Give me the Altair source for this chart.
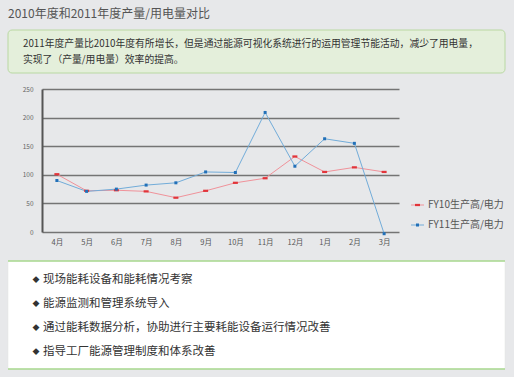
import altair as alt
import pandas as pd

FONT = "Noto Sans CJK SC"

# ---- data ----
months = ["4月", "5月", "6月", "7月", "8月", "9月", "10月", "11月", "12月", "1月", "2月", "3月"]
fy10 = [101, 72, 73, 71, 60, 72, 86, 94, 132, 105, 113, 105]
fy11 = [90, 71, 75, 82, 86, 105, 104, 209, 115, 163, 155, -3]
series_names = ["FY10生产高/电力", "FY11生产高/电力"]
y_ticks = [0, 50, 100, 150, 200, 250]

title_text = ["2010年度和2011年度产量/用电量对比"]
note_lines = [
    "2011年度产量比2010年度有所增长，但是通过能源可视化系统进行的运用管理节能活动，减少了用电量，",
    "实现了（产量/用电量）效率的提高。",
]
bullet_lines = [
    "现场能耗设备和能耗情况考察",
    "能源监测和管理系统导入",
    "通过能耗数据分析，协助进行主要耗能设备运行情况改善",
    "指导工厂能源管理制度和体系改善",
]

rows = []
for name, vals in zip(series_names, [fy10, fy11]):
    for m, v in zip(months, vals):
        rows.append({"month": m, "value": v, "series": name})
df = pd.DataFrame(rows)

# plot-area origin in page pixels
OX, OY = 42, 89
W, H = 357, 143

x_enc = alt.X("month:N", sort=months,
              scale=alt.Scale(type="point", padding=0.5),
              axis=alt.Axis(title=None, labelAngle=0, ticks=False, domain=False,
                            labelFontSize=7.5, labelColor="#555", labelPadding=6,
                            labelFont=FONT))
y_enc = alt.Y("value:Q", scale=alt.Scale(domain=[0, 250], nice=False),
              axis=alt.Axis(title=None, values=y_ticks, ticks=False, tickSize=0,
                            labelOverlap=False,
                            domain=True, domainColor="#555", domainWidth=2,
                            grid=True, gridColor="#747474", gridWidth=1.7,
                            labelFontSize=6.5, labelColor="#666", labelPadding=9,
                            labelFont=FONT))

line_colors = ["#f0929a", "#72acd9"]
mark_colors = ["#e2343a", "#2270b8"]
marker_paths = ["M-1,-0.45H1V0.45H-1Z", "M-0.6,-0.6H0.6V0.6H-0.6Z"]

lines = alt.Chart(df).mark_line(strokeWidth=1).encode(
    x=x_enc, y=y_enc,
    color=alt.Color("series:N", scale=alt.Scale(domain=series_names, range=line_colors), legend=None),
)

points = alt.Chart(df).mark_point(filled=True, size=25, opacity=1, strokeWidth=0).encode(
    x=x_enc, y=y_enc,
    fill=alt.Fill("series:N", scale=alt.Scale(domain=series_names, range=mark_colors),
                  legend=None),
    shape=alt.Shape("series:N", scale=alt.Scale(domain=series_names, range=marker_paths),
                    legend=None),
)

# ---- decorations (page pixels converted to plot coordinates) ----
def px(x):
    return x - OX

def py(y):
    return y - OY

dummy = pd.DataFrame({"k": [0]})

top_box = alt.Chart(dummy).mark_rect(fill="#e4efdb", stroke="#b9d8a2", strokeWidth=1,
                                     cornerRadius=4).encode(
    x=alt.value(px(8)), x2=alt.value(px(505)), y=alt.value(py(30)), y2=alt.value(py(73)))

bottom_box = alt.Chart(dummy).mark_rect(fill="#ffffff", stroke="#e0e4e0", strokeWidth=0.5).encode(
    x=alt.value(px(8)), x2=alt.value(px(505)), y=alt.value(py(261)), y2=alt.value(py(369)))
bottom_line_top = alt.Chart(dummy).mark_rule(color="#a9d88f", strokeWidth=1.5).encode(
    x=alt.value(px(8)), x2=alt.value(px(505)), y=alt.value(py(261)))
bottom_line_bot = alt.Chart(dummy).mark_rule(color="#a9d88f", strokeWidth=1.5).encode(
    x=alt.value(px(8)), x2=alt.value(px(505)), y=alt.value(py(369)))

title = alt.Chart(pd.DataFrame({"t": title_text})).mark_text(
    align="left", baseline="middle", fontSize=12, color="#555", font=FONT).encode(
    text="t:N", x=alt.value(px(8)), y=alt.value(py(14)))

note_df = pd.DataFrame({"t": note_lines, "i": list(range(len(note_lines)))})
note_layers = []
for i, t in enumerate(note_lines):
    note_layers.append(
        alt.Chart(note_df).transform_filter(alt.datum.i == i).mark_text(
            align="left", baseline="middle", fontSize=9.8, color="#333", font=FONT).encode(
            text="t:N", x=alt.value(px(23)), y=alt.value(py(44 + 16 * i))))

bullet_df = pd.DataFrame({"t": bullet_lines, "i": list(range(len(bullet_lines)))})
bullet_layers = []
for i, t in enumerate(bullet_lines):
    yy = py(280 + 24 * i)
    bullet_layers.append(
        alt.Chart(bullet_df).transform_filter(alt.datum.i == i).mark_text(
            align="left", baseline="middle", fontSize=11.5, color="#333", font=FONT).encode(
            text="t:N", x=alt.value(px(43)), y=alt.value(yy)))
    bullet_layers.append(
        alt.Chart(bullet_df).transform_filter(alt.datum.i == i).mark_text(
            text="◆", align="center", baseline="middle", fontSize=7, color="#333", font=FONT).encode(
            x=alt.value(px(36)), y=alt.value(yy)))

# ---- legend (drawn as marks) ----
legend_df = pd.DataFrame({"t": series_names, "i": [0, 1]})
legend_layers = []
for i, name in enumerate(series_names):
    ly = py(205 + 20 * i)
    base = alt.Chart(legend_df).transform_filter(alt.datum.i == i)
    legend_layers.append(base.mark_rule(color=line_colors[i], strokeWidth=1).encode(
        x=alt.value(px(411)), x2=alt.value(px(424)), y=alt.value(ly)))
    legend_layers.append(base.mark_point(shape=marker_paths[i], filled=True, size=25,
                                         strokeWidth=0, color=mark_colors[i], opacity=1).encode(
        x=alt.value(px(417.5)), y=alt.value(ly)))
    legend_layers.append(base.mark_text(align="left", baseline="middle", fontSize=10,
                                        color="#555", font=FONT).encode(
        text="t:N", x=alt.value(px(428)), y=alt.value(ly)))

chart = alt.layer(
    top_box, bottom_box, bottom_line_top, bottom_line_bot, title,
    *note_layers, *bullet_layers, lines, points, *legend_layers,
).properties(
    width=W, height=H,
    autosize=alt.AutoSizeParams(type="none"),
    padding={"left": OX, "top": OY, "right": 514 - OX - W, "bottom": 377 - OY - H},
    background="#e7e8ea",
).configure_view(stroke=None, fill="#e7e8ea")

chart.save("out.html", embed_options={"renderer": "svg", "actions": False})
